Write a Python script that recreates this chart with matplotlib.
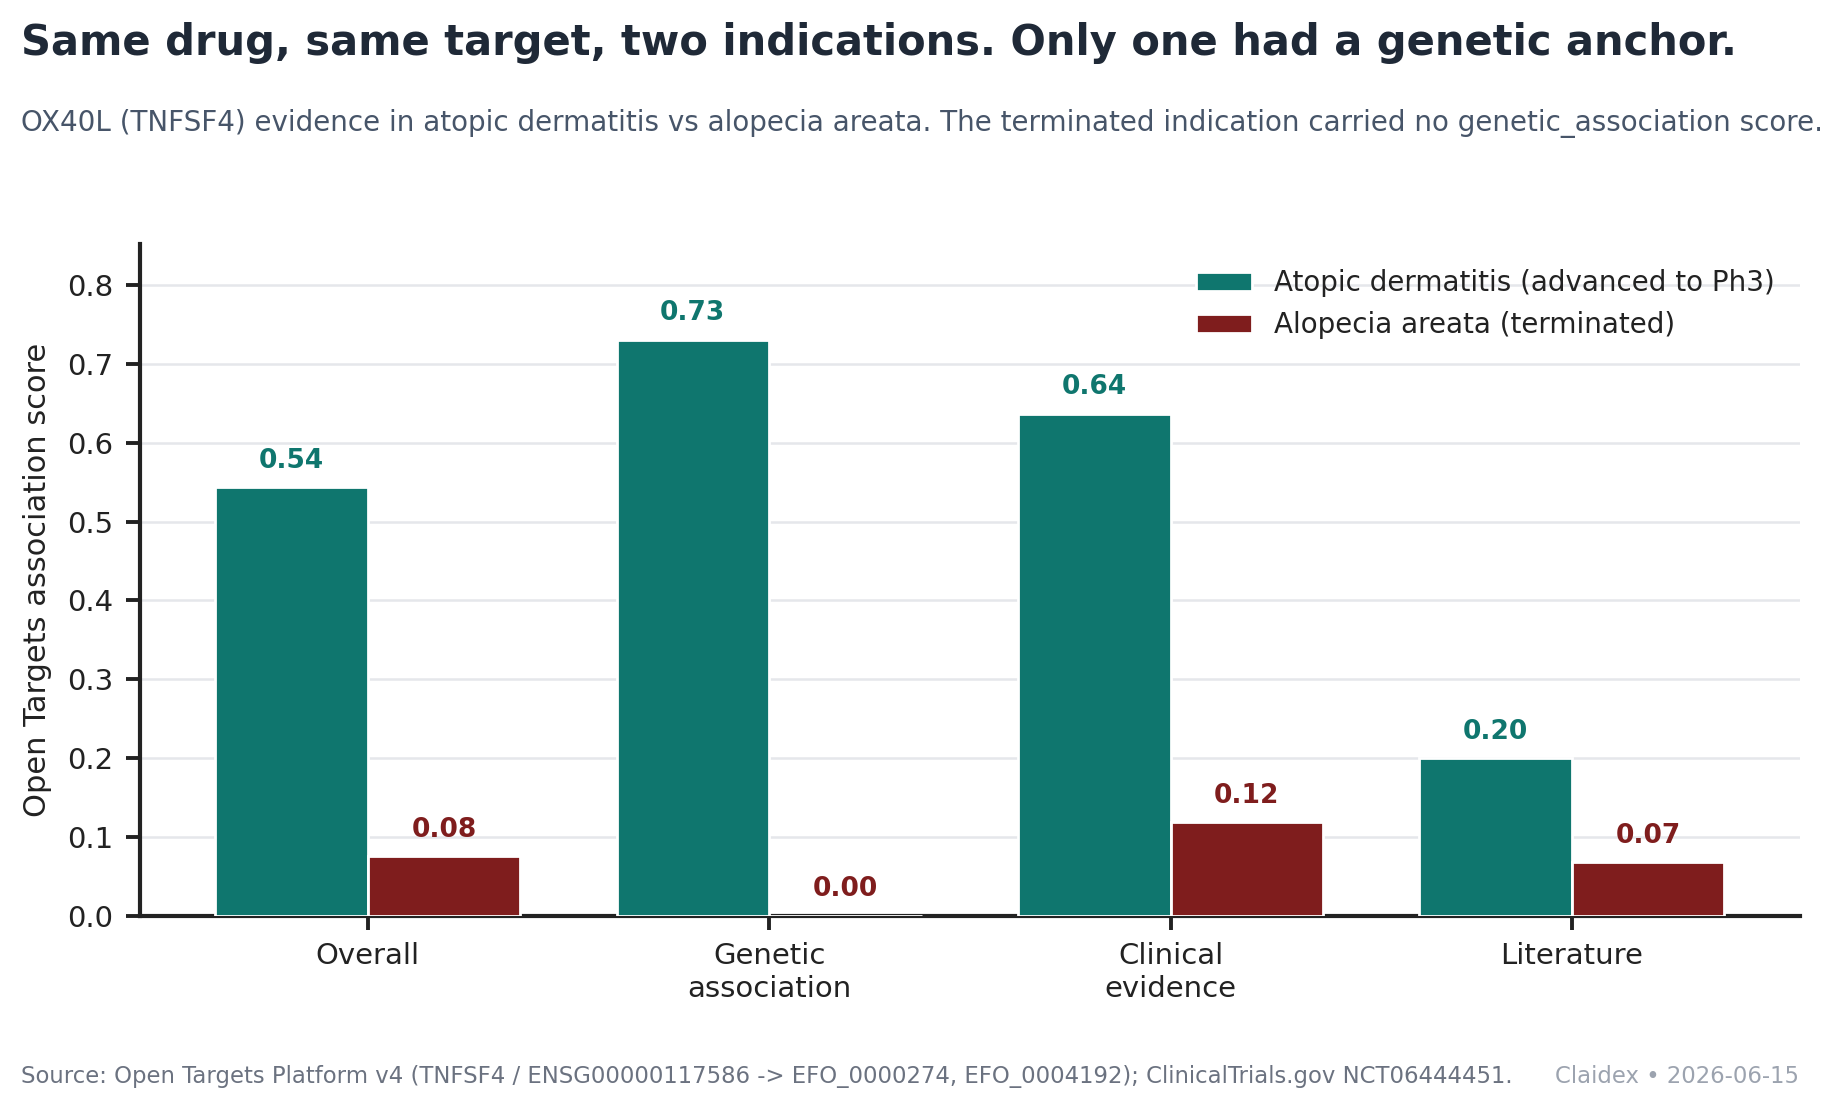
import matplotlib
matplotlib.use("Agg")
import matplotlib.pyplot as plt
import numpy as np

categories = ["Overall", "Genetic\nassociation", "Clinical\nevidence", "Literature"]
atopic = [0.544, 0.731, 0.637, 0.200]
alopecia = [0.076, 0.0, 0.119, 0.068]
series_names = ["Atopic dermatitis (advanced to Ph3)", "Alopecia areata (terminated)"]
yticks = [0.0, 0.1, 0.2, 0.3, 0.4, 0.5, 0.6, 0.7, 0.8]

TEAL = "#0f766e"
RED = "#7f1d1d"

plt.rcParams['font.family'] = ['DejaVu Sans']
fig = plt.figure(figsize=(9.205, 5.55), dpi=200)
ax = fig.add_axes([0.0759, 0.175, 0.9018, 0.605])

x = np.arange(len(categories))
w = 0.38
b1 = ax.bar(x - w/2, atopic, w, color=TEAL, edgecolor="white", linewidth=1.0, label=series_names[0], zorder=3)
b2 = ax.bar(x + w/2, alopecia, w, color=RED, edgecolor="white", linewidth=1.0, label=series_names[1], zorder=3)

for bars, vals, c in [(b1, atopic, TEAL), (b2, alopecia, RED)]:
    for r, v in zip(bars, vals):
        ax.annotate(f"{v:.2f}", (r.get_x() + r.get_width()/2, v), xytext=(0, 4.8),
                    textcoords="offset points", ha="center", va="bottom",
                    fontsize=9.5, fontweight="bold", color=c, zorder=4)

ax.set_ylim(0, 0.852)
ax.set_yticks(yticks)
ax.set_yticklabels([f"{t:.1f}" for t in yticks])
ax.set_xticks(x)
ax.set_xticklabels(categories)
ax.tick_params(axis="both", labelsize=10.5, colors="#222222", length=5, width=1.4,
               direction="out", pad=4.5)
ax.set_ylabel("Open Targets association score", fontsize=11, color="#222222", labelpad=5.5)
ax.grid(axis="y", color="#e5e7eb", linewidth=0.9, zorder=0)
ax.set_axisbelow(True)
for s in ["top", "right"]:
    ax.spines[s].set_visible(False)
for s in ["left", "bottom"]:
    ax.spines[s].set_color("#222222")
    ax.spines[s].set_linewidth(1.5)

leg = ax.legend(loc="upper right", frameon=False, fontsize=10, handlelength=2.0,
                bbox_to_anchor=(1.0, 1.0))
for t in leg.get_texts():
    t.set_color("#222222")

fig.text(0.0114, 0.961, "Same drug, same target, two indications. Only one had a genetic anchor.",
         fontsize=15, fontweight="bold", color="#1f2937", ha="left", va="center")
fig.text(0.0114, 0.889, "OX40L (TNFSF4) evidence in atopic dermatitis vs alopecia areata. The terminated indication carried no genetic_association score.",
         fontsize=10, color="#475569", ha="left", va="center")
fig.text(0.0114, 0.0305, "Source: Open Targets Platform v4 (TNFSF4 / ENSG00000117586 -> EFO_0000274, EFO_0004192); ClinicalTrials.gov NCT06444451.",
         fontsize=8.2, color="#6b7280", ha="left", va="center")
fig.text(0.977, 0.0305, "Claidex \u2022 2026-06-15", fontsize=8.2, color="#9ca3af", ha="right", va="center")

fig.savefig("out.png", dpi=200)
